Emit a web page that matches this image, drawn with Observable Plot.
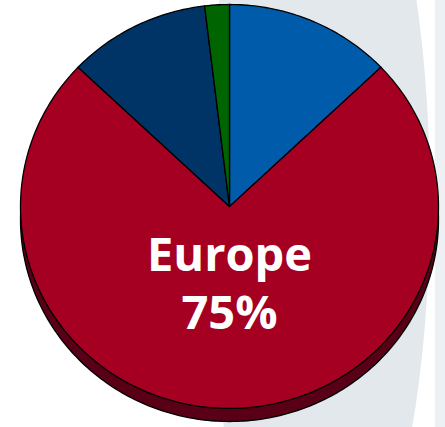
<!DOCTYPE html>
<html><head><meta charset="utf-8">
<script src="https://cdn.jsdelivr.net/npm/d3@7"></script>
<script src="https://cdn.jsdelivr.net/npm/@observablehq/plot@0.6"></script>
<style>
html,body{margin:0;padding:0;background:#fff;}
#chart{position:relative;width:445px;height:427px;overflow:hidden;background:#fff;}
#deco{position:absolute;left:206px;top:-220px;width:224px;height:840px;border-radius:50%;background:#e3e8ed;}
#deco2{position:absolute;left:435px;top:0;width:10px;height:427px;background:#eef1f4;}
#chart svg{position:absolute;left:0;top:0;}
</style></head><body><div id="chart"><div id="deco"></div><div id="deco2"></div></div>
<script>
// Slices, clockwise from 12 o'clock (shares)
const names = ["Americas", "Europe", "Asia", "Other"];
const values = [12.9, 74.2, 11.0, 1.9];
const colors = ["#005bab", "#a50021", "#003366", "#006400"];
const labelName = "Europe";
const labelValue = "75%";

const total = d3.sum(values);
let acc = 0;
const pts = [];
values.forEach((v, i) => {
  const a0 = acc / total * 2 * Math.PI, a1 = (acc + v) / total * 2 * Math.PI;
  acc += v;
  const n = Math.max(2, Math.ceil((a1 - a0) / (Math.PI / 180)));
  pts.push({name: names[i], x: 0, y: 0});
  for (let k = 0; k <= n; k++) {
    const a = a0 + (a1 - a0) * k / n;
    pts.push({name: names[i], x: Math.sin(a), y: Math.cos(a)});
  }
  pts.push({name: names[i], x: 0, y: 0});
});
const label = [{name: labelName, value: labelValue}];
const font = {fill: "white", fontSize: 47, fontWeight: "bold",
  fontFamily: "'Open Sans', 'DejaVu Sans', sans-serif"};

const chart = Plot.plot({
  width: 445, height: 427, margin: 0,
  x: {domain: [-1, 1], range: [20, 438], axis: null},
  y: {domain: [-1, 1], range: [408, 4], axis: null},
  color: {domain: names, range: colors},
  style: {background: "transparent", overflow: "visible"},
  marks: [
    Plot.line(pts, {filter: d => d.name === labelName, x: "x", y: "y", z: "name",
      fill: "#5a0016", stroke: "#000", strokeWidth: 1.3, dy: 13}),
    Plot.line(pts, {x: "x", y: "y", z: "name", fill: "name", stroke: "#000",
      strokeWidth: 1.3, strokeLinejoin: "round"}),
    Plot.text(label, {x: d => 0, y: d => -0.39, dy: -29, text: "name", ...font}),
    Plot.text(label, {x: d => 0, y: d => -0.39, dy: 29, text: "value", ...font})
  ]
});
document.getElementById("chart").appendChild(chart);
</script></body></html>
